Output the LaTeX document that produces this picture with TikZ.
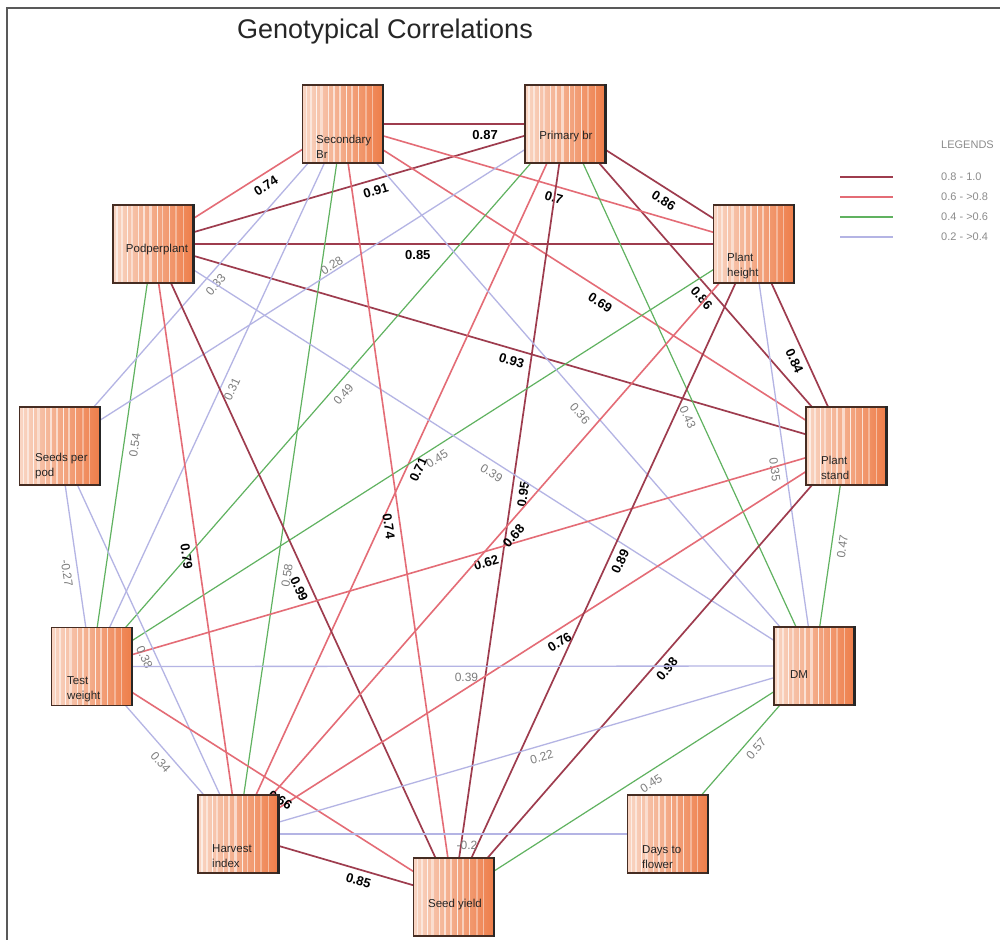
\documentclass[tikz,border=0pt]{standalone}
\usepackage{fontspec}
\setmainfont{Liberation Sans}
\usetikzlibrary{calc,backgrounds}
\pgfdeclarelayer{bottom}
\pgfsetlayers{bottom,background,main}
\definecolor{cdark}{RGB}{158,60,78}
\definecolor{cred}{RGB}{228,108,118}
\definecolor{cgreen}{RGB}{96,178,96}
\definecolor{clav}{RGB}{180,180,228}
\definecolor{boxL}{RGB}{249,214,196}
\definecolor{boxM}{RGB}{245,182,150}
\definecolor{boxR}{RGB}{238,126,74}
\definecolor{boxline}{RGB}{70,45,35}
\definecolor{labgrey}{RGB}{125,125,125}
\definecolor{leggrey}{RGB}{140,140,140}
\tikzset{
  e8/.style={draw=cdark, line width=1.7pt},
  e6/.style={draw=cred, line width=1.6pt},
  e4/.style={draw=cgreen, line width=1.2pt},
  e2/.style={draw=clav, line width=1.3pt},
  hi/.style={sloped, below=5pt, inner sep=1pt, font=\fontsize{13}{15}\selectfont\bfseries, text=black},
  lo/.style={sloped, below=5pt, inner sep=1pt, font=\fontsize{12}{14}\selectfont, text=labgrey},
  varbox/.style={rectangle, minimum width=80pt, minimum height=78pt, inner sep=0pt,
    draw=boxline, line width=1.1pt, left color=boxL, middle color=boxM, right color=boxR,
    path picture={
      \foreach \f/\w/\o in {0.05/1.2/0.6,0.11/2.2/0.5,0.18/1/0.8,0.24/2.5/0.45,0.32/1/0.7,0.39/1.6/0.6,
                            0.47/2.6/0.55,0.55/1/0.8,0.62/1.6/0.5,0.7/1/0.7,0.79/2/0.35,0.88/1/0.45}{
        \draw[white, opacity=\o, line width=\w pt]
          ($(path picture bounding box.north west)!\f!(path picture bounding box.north east)$) --
          ($(path picture bounding box.south west)!\f!(path picture bounding box.south east)$);
      }
    }},
  btext/.style={font=\fontsize{11.5}{15.5}\selectfont, text=black!85, align=left, inner sep=0pt, anchor=west},
  ctext/.style={font=\fontsize{11.5}{15.5}\selectfont, text=black!85, inner sep=0pt},
  legtext/.style={font=\fontsize{11}{13}\selectfont, text=leggrey, inner sep=0pt, anchor=west}
}
\begin{document}
\begin{tikzpicture}[x=1pt,y=-1pt]
\useasboundingbox (0,0) rectangle (1000,940);
\begin{pgfonlayer}{bottom}
\fill[white] (0,0) rectangle (1000,940);
\draw[black!65, line width=1.2pt] (1000,8) -- (7,8) -- (7,940);
\end{pgfonlayer}

% title
\node[font=\fontsize{27}{30}\selectfont, text=black!85, anchor=base] (title) at (385,38) {Genotypical Correlations};

% boxes
\node[varbox] (SB) at (342.5,124) {};
\node[varbox] (PB) at (565,124) {};
\node[varbox] (PH) at (753.5,244) {};
\node[varbox] (PS) at (846,446) {};
\node[varbox] (DM) at (814,666) {};
\node[varbox] (DF) at (667.5,834) {};
\node[varbox] (SY) at (453.5,897) {};
\node[varbox] (HI) at (238,834) {};
\node[varbox] (TW) at (91.5,666.5) {};
\node[varbox] (SP) at (59.5,446) {};
\node[varbox] (PP) at (153,244) {};
\foreach \n in {SB,PB,PH,PS,DM,DF,SY,HI,TW,SP,PP}{
  \draw[line width=2.2pt, black!85] (\n.north east) -- (\n.south east);
}

% box texts
\node[btext] (SBt) at (316,147) {Secondary\\Br};
\node[ctext] (PBt) at (566,137) {Primary br};
\node[ctext] (PPt) at (157,250) {Podperplant};
\node[btext] (PHt) at (727,266) {Plant\\height};
\node[btext] (PSt) at (821,468) {Plant\\stand};
\node[btext] (SPt) at (35,466) {Seeds per\\pod};
\node[btext] (TWt) at (67,689) {Test\\weight};
\node[ctext] (DMt) at (799,675) {DM};
\node[btext] (DFt) at (642,857) {Days to\\flower};
\node[ctext] (SYt) at (455,905) {Seed yield};
\node[btext] (HIt) at (212,856) {Harvest\\index};

% connectors
\begin{scope}[on background layer]
\draw[e8] (SB.center) -- node[hi,pos=.641]{0.87} (PB.center);
\draw[e6] (SB.center) -- node[hi,pos=.436]{0.74} (PP.center);
\draw[e8] (PB.center) -- node[hi,pos=.467]{0.91} (PP.center);
\draw[e8] (PB.center) -- node[hi,pos=.556]{0.86} (PH.center);
\draw[e8] (PP.center) -- node[hi,pos=.441]{0.85} (PH.center);
\draw[e6] (SB.center) -- node[hi,pos=.524]{0.69} (PS.center);
\draw[e8] (PP.center) -- node[hi,pos=.522]{0.93} (PS.center);
\draw[e8] (PB.center) -- node[hi,pos=.517]{0.86} (PS.center);
\draw[e8] (PH.center) -- node[hi,pos=.555]{0.84} (PS.center);
\draw[e6] (SB.center) -- node[hi,pos=.522]{0.7} (PH.center);
\draw[e8] (PB.center) -- node[hi,pos=.477]{0.95} (SY.center);
\draw[e6] (PB.center) -- node[hi,pos=.480]{0.71} (HI.center);
\draw[e4] (PB.center) -- node[lo,pos=.485]{0.49} (TW.center);
\draw[e4] (PH.center) -- node[lo,pos=.487]{0.45} (TW.center);
\draw[e4] (PP.center) -- node[lo,pos=.472]{0.54} (TW.center);
\draw[e4] (SB.center) -- node[lo,pos=.634]{0.58} (HI.center);
\draw[e2] (SB.center) -- node[lo,pos=.477]{0.33} (SP.center);
\draw[e2] (SB.center) -- node[lo,pos=.480]{0.31} (TW.center);
\draw[e2] (PB.center) -- node[lo,pos=.455,above=5pt]{0.28} (SP.center);
\draw[e2] (SB.center) -- node[lo,pos=.521]{0.36} (DM.center);
\draw[e2] (PP.center) -- node[lo,pos=.521]{0.39} (DM.center);
\draw[e4] (PB.center) -- node[lo,pos=.533]{0.43} (DM.center);
\draw[e2] (PH.center) -- node[lo,pos=.531]{0.35} (DM.center);
\draw[e4] (PS.center) -- node[lo,pos=.450]{0.47} (DM.center);
\draw[e6] (PP.center) -- node[hi,pos=.527]{0.79} (HI.center);
\draw[e8] (PP.center) -- node[hi,pos=.521]{0.99} (SY.center);
\draw[e6] (PS.center) -- node[hi,pos=.481]{0.62} (TW.center);
\draw[e6] (PS.center) -- node[hi,pos=.481]{0.76} (HI.center);
\draw[e6] (PH.center) -- node[hi,pos=.482]{0.68} (HI.center);
\draw[e6] (SB.center) -- node[hi,pos=.518]{0.74} (SY.center);
\draw[e8] (PH.center) -- node[hi,pos=.479]{0.89} (SY.center);
\draw[e8] (PS.center) -- node[hi,pos=.478]{0.98} (SY.center);
\draw[e2] (SP.center) -- node[lo,pos=.569]{-0.27} (TW.center);
\draw[e2] (SP.center) -- node[lo,pos=.532]{0.38} (HI.center);
\draw[e2] (TW.center) -- node[lo,pos=.528]{0.34} (HI.center);
\draw[e6] (TW.center) -- node[hi,pos=.538]{0.66} (SY.center);
\draw[e2] (TW.center) -- node[lo,pos=.519]{0.39} (DM.center);
\draw[e2] (HI.center) -- node[lo,pos=.522]{0.22} (DM.center);
\draw[e2] (HI.center) -- node[lo,pos=.533]{-0.2} (DF.center);
\draw[e8] (HI.center) -- node[hi,pos=.574]{0.85} (SY.center);
\draw[e4] (SY.center) -- node[lo,pos=.532]{0.45} (DM.center);
\draw[e4] (DM.center) -- node[lo,pos=.450]{0.57} (DF.center);
\end{scope}

% legend
\node[legtext] (legT) at (941,145) {LEGENDS};
\coordinate (lg1a) at (840,177); \coordinate (lg1b) at (893,177);
\coordinate (lg2a) at (840,197); \coordinate (lg2b) at (893,197);
\coordinate (lg3a) at (840,217); \coordinate (lg3b) at (893,217);
\coordinate (lg4a) at (840,237); \coordinate (lg4b) at (893,237);
\draw[e8] (lg1a) -- (lg1b);
\draw[e6] (lg2a) -- (lg2b);
\draw[e4] (lg3a) -- (lg3b);
\draw[e2] (lg4a) -- (lg4b);
\node[legtext] (leg1) at (941,177) {0.8 - 1.0};
\node[legtext] (leg2) at (941,197) {0.6 - >0.8};
\node[legtext] (leg3) at (941,217) {0.4 - >0.6};
\node[legtext] (leg4) at (941,237) {0.2 - >0.4};
\end{tikzpicture}
\end{document}
